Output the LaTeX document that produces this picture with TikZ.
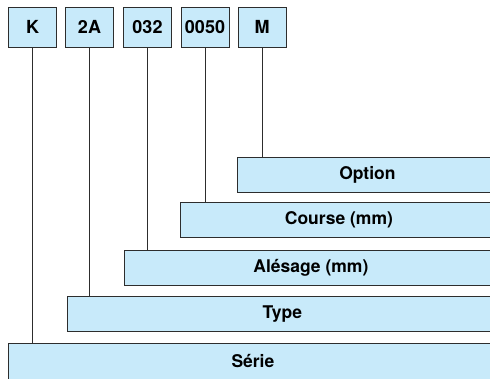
\documentclass[tikz,border=0pt]{standalone}
\usepackage{fontspec}
\setmainfont{TeX Gyre Heros}
\usetikzlibrary{positioning}
\definecolor{barblue}{RGB}{200,234,250}
\definecolor{edgegray}{RGB}{45,45,45}

\begin{document}
\begin{tikzpicture}[x=1pt,y=-1pt,
    codebox/.style={draw=edgegray, fill=barblue, line width=0.8pt,
      minimum width=48pt, minimum height=40pt, inner sep=0pt,
      font=\fontsize{18}{20}\selectfont\bfseries},
    fieldbar/.style={draw=edgegray, fill=barblue, line width=0.8pt,
      minimum height=35pt, inner sep=0pt, anchor=north west,
      font=\fontsize{17.5}{20}\selectfont\bfseries},
    leader/.style={draw=edgegray, line width=0.8pt}]
  \useasboundingbox (0,0) rectangle (490,378);
  \clip (0,0) rectangle (490,378);

  % Draw the code boxes
  \foreach \name/\txt/\x in {codeK/K/32.5, code2A/2A/89.5, code032/032/147.5,
      code0050/0050/205, codeM/M/262}
    \node[codebox] (\name) at (\x,27) {\txt};

  % Draw the field bars
  \foreach \name/\txt/\x/\y in {option/Option/237/157, course/Course (mm)/180/202,
      alesage/Alésage (mm)/124/250, type/Type/67/296}
    \node[fieldbar, minimum width={497-\x}] (\name) at (\x,\y) {\txt};
  \node[fieldbar, minimum width=489, minimum height=38pt, text depth=3pt] (serie) at (8,343) {Série};

  % Leaders from each code to its field
  \foreach \code/\field in {codeK/serie, code2A/type, code032/alesage,
      code0050/course, codeM/option}
    \draw[leader] (\code.south) -- (\code.south |- \field.north);
\end{tikzpicture}
\end{document}
